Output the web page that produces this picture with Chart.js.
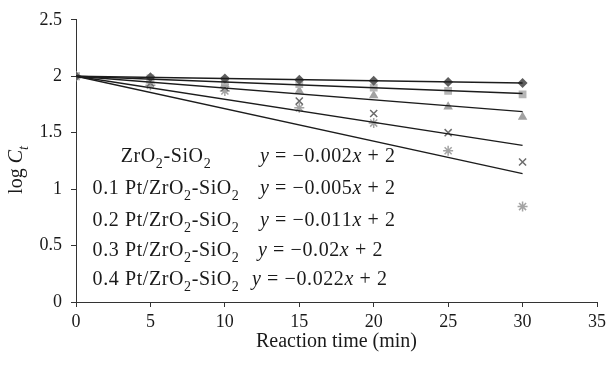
<!DOCTYPE html>
<html>
<head>
<meta charset="utf-8">
<script src="https://cdn.jsdelivr.net/npm/chart.js@4/dist/chart.umd.min.js"></script>
<style>
  html, body { margin: 0; padding: 0; background: #fff; }
  #wrap { width: 610px; height: 368px; position: relative; }
</style>
</head>
<body>
<div id="wrap"><canvas id="c" width="610" height="368"></canvas></div>
<script>
// ---- data ----
const times = [0, 5, 10, 15, 20, 25, 30];
const seriesNames = ['ZrO₂-SiO₂', '0.1 Pt/ZrO₂-SiO₂', '0.2 Pt/ZrO₂-SiO₂', '0.3 Pt/ZrO₂-SiO₂', '0.4 Pt/ZrO₂-SiO₂'];
const zrSi   = [2, 1.99, 1.98, 1.97, 1.96, 1.95, 1.94];
const pt01   = [2, 1.98, 1.96, 1.93, 1.90, 1.87, 1.84];
const pt02   = [2, 1.96, 1.93, 1.87, 1.83, 1.73, 1.64];
const pt03   = [2, 1.94, 1.90, 1.78, 1.67, 1.50, 1.24];
const pt04   = [2, 1.92, 1.87, 1.72, 1.585, 1.34, 0.845];
const equations = ['y = −0.002x + 2', 'y = −0.005x + 2', 'y = −0.011x + 2', 'y = −0.02x + 2', 'y = −0.022x + 2'];
const xTitle = 'Reaction time (min)';
const intercept = 2;

const seriesValues = [zrSi, pt01, pt02, pt03, pt04];
const pointStyles = ['rectRot', 'rect', 'triangle', 'crossRot', 'star'];
const colors = ['#5e5e5e', '#b6b6b6', '#a2a2a2', '#6c6c6c', '#a4a4a4'];
const radii = [5, 5.5, 5.5, 5, 5];

// trend line through fixed intercept (least squares)
function slopeThrough(vals) {
  let num = 0, den = 0;
  times.forEach((t, i) => { num += t * (vals[i] - intercept); den += t * t; });
  return num / den;
}

const FONT = '"Liberation Serif", "DejaVu Serif", serif';
const datasets = [];
seriesValues.forEach((vals, k) => {
  const filled = !(pointStyles[k] === 'crossRot' || pointStyles[k] === 'star');
  datasets.push({
    type: 'scatter',
    label: seriesNames[k],
    data: times.map((t, i) => ({ x: t, y: vals[i] })),
    pointStyle: pointStyles[k],
    pointRadius: radii[k],
    backgroundColor: colors[k],
    borderColor: colors[k],
    borderWidth: filled ? 0 : 1.5,
    showLine: false,
    order: 2
  });
});
seriesValues.forEach((vals, k) => {
  const s = slopeThrough(vals);
  const x0 = times[0], x1 = times[times.length - 1];
  datasets.push({
    type: 'line',
    label: 'trend ' + seriesNames[k],
    data: [{ x: x0, y: intercept + s * x0 }, { x: x1, y: intercept + s * x1 }],
    borderColor: '#1c1c1c',
    borderWidth: 1.3,
    pointRadius: 0,
    fill: false,
    order: 1
  });
});

// rich text helpers (subscripts / italics)
function segmentsFor(str, italicChars) {
  const segs = [];
  for (const ch of str) {
    if (ch === '₂') segs.push({ t: '2', sub: true });
    else segs.push({ t: ch, it: italicChars.includes(ch) });
  }
  return segs;
}
function fontFor(seg, size) {
  return (seg.it ? 'italic ' : '') + (seg.sub ? Math.round(size * 0.68) : size) + 'px ' + FONT;
}
function richWidth(ctx, segs, size) {
  let w = 0;
  segs.forEach(s => { ctx.font = fontFor(s, size); w += ctx.measureText(s.t).width; });
  return w;
}
function drawRich(ctx, x, y, segs, size, align) {
  let cx = x;
  if (align === 'center') cx = x - richWidth(ctx, segs, size) / 2;
  ctx.textBaseline = 'alphabetic';
  ctx.textAlign = 'left';
  segs.forEach(s => {
    ctx.font = fontFor(s, size);
    ctx.fillText(s.t, cx, y + (s.sub ? size * 0.28 : 0));
    cx += ctx.measureText(s.t).width;
  });
}

const rowBaselines = [162, 194, 226, 256, 285];
const labelCenterX = 166;
const eqX = [260, 260, 260, 258, 252];

const annotations = {
  id: 'annotations',
  afterDraw(chart) {
    const ctx = chart.ctx;
    ctx.save();
    ctx.fillStyle = '#1a1a1a';
    if ('letterSpacing' in ctx) ctx.letterSpacing = '0.6px';
    seriesNames.forEach((name, i) => {
      drawRich(ctx, labelCenterX, rowBaselines[i], segmentsFor(name, ''), 20, 'center');
      drawRich(ctx, eqX[i], rowBaselines[i], segmentsFor(equations[i], 'xy'), 20, 'left');
    });
    if ('letterSpacing' in ctx) ctx.letterSpacing = '0px';
    // y-axis title: log C_t
    ctx.translate(22, 170);
    ctx.rotate(-Math.PI / 2);
    const ySegs = [{ t: 'log ' }, { t: 'C', it: true }, { t: 't', it: true, sub: true }];
    drawRich(ctx, 0, 0, ySegs, 20, 'center');
    ctx.restore();
  }
};

new Chart(document.getElementById('c'), {
  data: { datasets },
  options: {
    responsive: false,
    animation: false,
    layout: { padding: { top: 15, right: 10, left: 0, bottom: 0 } },
    plugins: { legend: { display: false }, tooltip: { enabled: false } },
    scales: {
      x: {
        type: 'linear', min: 0, max: 35,
        ticks: { stepSize: 5, color: '#1a1a1a', padding: 4, font: { family: FONT, size: 18 }, maxRotation: 0 },
        grid: { drawOnChartArea: false, drawTicks: true, tickLength: 5, color: '#333' },
        border: { display: true, color: '#333', width: 1 },
        title: { display: true, text: xTitle, color: '#1a1a1a', font: { family: FONT, size: 20 }, padding: { top: 0, bottom: 14 } },
        afterFit(scale) { scale.height = 66; }
      },
      y: {
        type: 'linear', min: 0, max: 2.5,
        ticks: { stepSize: 0.5, color: '#1a1a1a', padding: 9, font: { family: FONT, size: 18 },
                 callback: (v) => String(v) },
        grid: { drawOnChartArea: false, drawTicks: true, tickLength: 5, color: '#333' },
        border: { display: true, color: '#333', width: 1 },
        afterFit(scale) { scale.width = 76; }
      }
    }
  },
  plugins: [annotations]
});
</script>
</body>
</html>
